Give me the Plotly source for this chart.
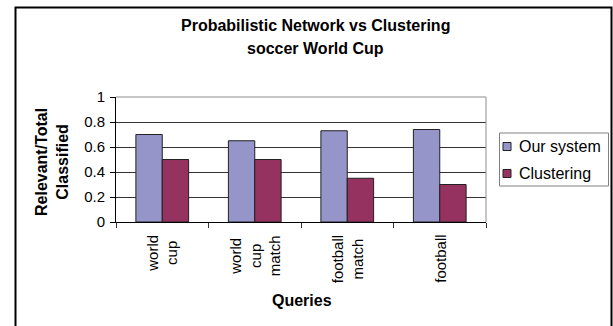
import plotly.graph_objects as go

categories = ["world<br>cup", "world<br>cup<br>match", "football<br>match", "football"]
our_system = [0.70, 0.65, 0.73, 0.74]
clustering = [0.50, 0.50, 0.35, 0.30]
series_names = ["Our system", "Clustering"]
series_colors = ["#9595C9", "#95325F"]
y_ticks = [0, 0.2, 0.4, 0.6, 0.8, 1]
y_ticktext = ["0", "0.2", "0.4", "0.6", "0.8", "1"]
title_lines = ["Probabilistic Network vs Clustering", "soccer World Cup"]

FONT = "Liberation Sans, Arial, sans-serif"
W, H = 613, 326
L, R, T, B = 116, 127, 97, 104
pw = W - L - R
ph = H - T - B

def px_x(x):
    return (x - L) / pw

def px_y(y):
    return (H - B - y) / ph

fig = go.Figure()
for name, vals, col in zip(series_names, [our_system, clustering], series_colors):
    fig.add_trace(go.Bar(x=categories, y=vals, name=name, showlegend=False,
                         marker=dict(color=col, line=dict(color="#222222", width=1))))

fig.update_layout(
    width=W, height=H,
    margin=dict(l=L, r=R, t=T, b=B, pad=0),
    paper_bgcolor="white", plot_bgcolor="white",
    barmode="group", bargap=0.43, bargroupgap=0,
    font=dict(family=FONT, size=13, color="black"),
    showlegend=False,
)
fig.update_yaxes(range=[0, 1], tickvals=y_ticks, ticktext=y_ticktext,
                 showgrid=True, gridcolor="#333333", gridwidth=1,
                 showline=True, linecolor="black", linewidth=1,
                 ticks="outside", ticklen=5, tickcolor="black",
                 ticklabelstandoff=2,
                 tickfont=dict(family=FONT, size=15), zeroline=False)
fig.update_xaxes(tickson="boundaries", ticks="outside", ticklen=5, tickcolor="#333333",
                 showline=True, linecolor="black", linewidth=1,
                 showticklabels=False)

# category labels (rotated, centred lines)
for c in categories:
    fig.add_annotation(text=c, xref="x", yref="paper", x=c, y=px_y(233),
                       showarrow=False, textangle=-90, align="center",
                       xanchor="center", yanchor="top",
                       font=dict(family=FONT, size=15))

# plot-area top/right border (gray)
fig.add_shape(type="path", xref="paper", yref="paper",
              path="M 0 1 L 1 1 L 1 0",
              line=dict(color="#8c8c8c", width=1), layer="above")
# outer chart border
fig.add_shape(type="path", xref="paper", yref="paper",
              path=f"M {px_x(15.5)} {px_y(400)} L {px_x(15.5)} {px_y(7.5)} L {px_x(611.5)} {px_y(7.5)} L {px_x(611.5)} {px_y(400)}",
              line=dict(color="black", width=2))

# title
for line, yc in zip(title_lines, [26, 48]):
    fig.add_annotation(text=f"<b>{line}</b>", xref="paper", yref="paper",
                       x=px_x(315), y=px_y(yc), showarrow=False,
                       font=dict(family=FONT, size=16), xanchor="center", yanchor="middle")

fig.add_annotation(text="<b>Relevant/Total</b><br><b>Classified</b>",
                   xref="paper", yref="paper", x=px_x(52), y=px_y(162), showarrow=False,
                   textangle=-90, font=dict(family=FONT, size=16),
                   xanchor="center", yanchor="middle")
fig.add_annotation(text="<b>Queries</b>", xref="paper", yref="paper",
                   x=px_x(302), y=px_y(300), showarrow=False,
                   font=dict(family=FONT, size=16), xanchor="center", yanchor="middle")

# legend (manual)
fig.add_shape(type="rect", xref="paper", yref="paper",
              x0=px_x(499.5), x1=px_x(608.5), y0=px_y(186), y1=px_y(133),
              line=dict(color="#808080", width=1), fillcolor="white")
for name, col, yc in zip(series_names, series_colors, [146.5, 173.5]):
    fig.add_shape(type="rect", xref="paper", yref="paper",
                  x0=px_x(503), x1=px_x(511), y0=px_y(yc + 4), y1=px_y(yc - 4),
                  line=dict(color="#222222", width=1), fillcolor=col)
    fig.add_annotation(text=name, xref="paper", yref="paper",
                       x=px_x(517), y=px_y(yc), showarrow=False,
                       xanchor="left", yanchor="middle",
                       font=dict(family=FONT, size=16))

fig.write_html("out.html")
